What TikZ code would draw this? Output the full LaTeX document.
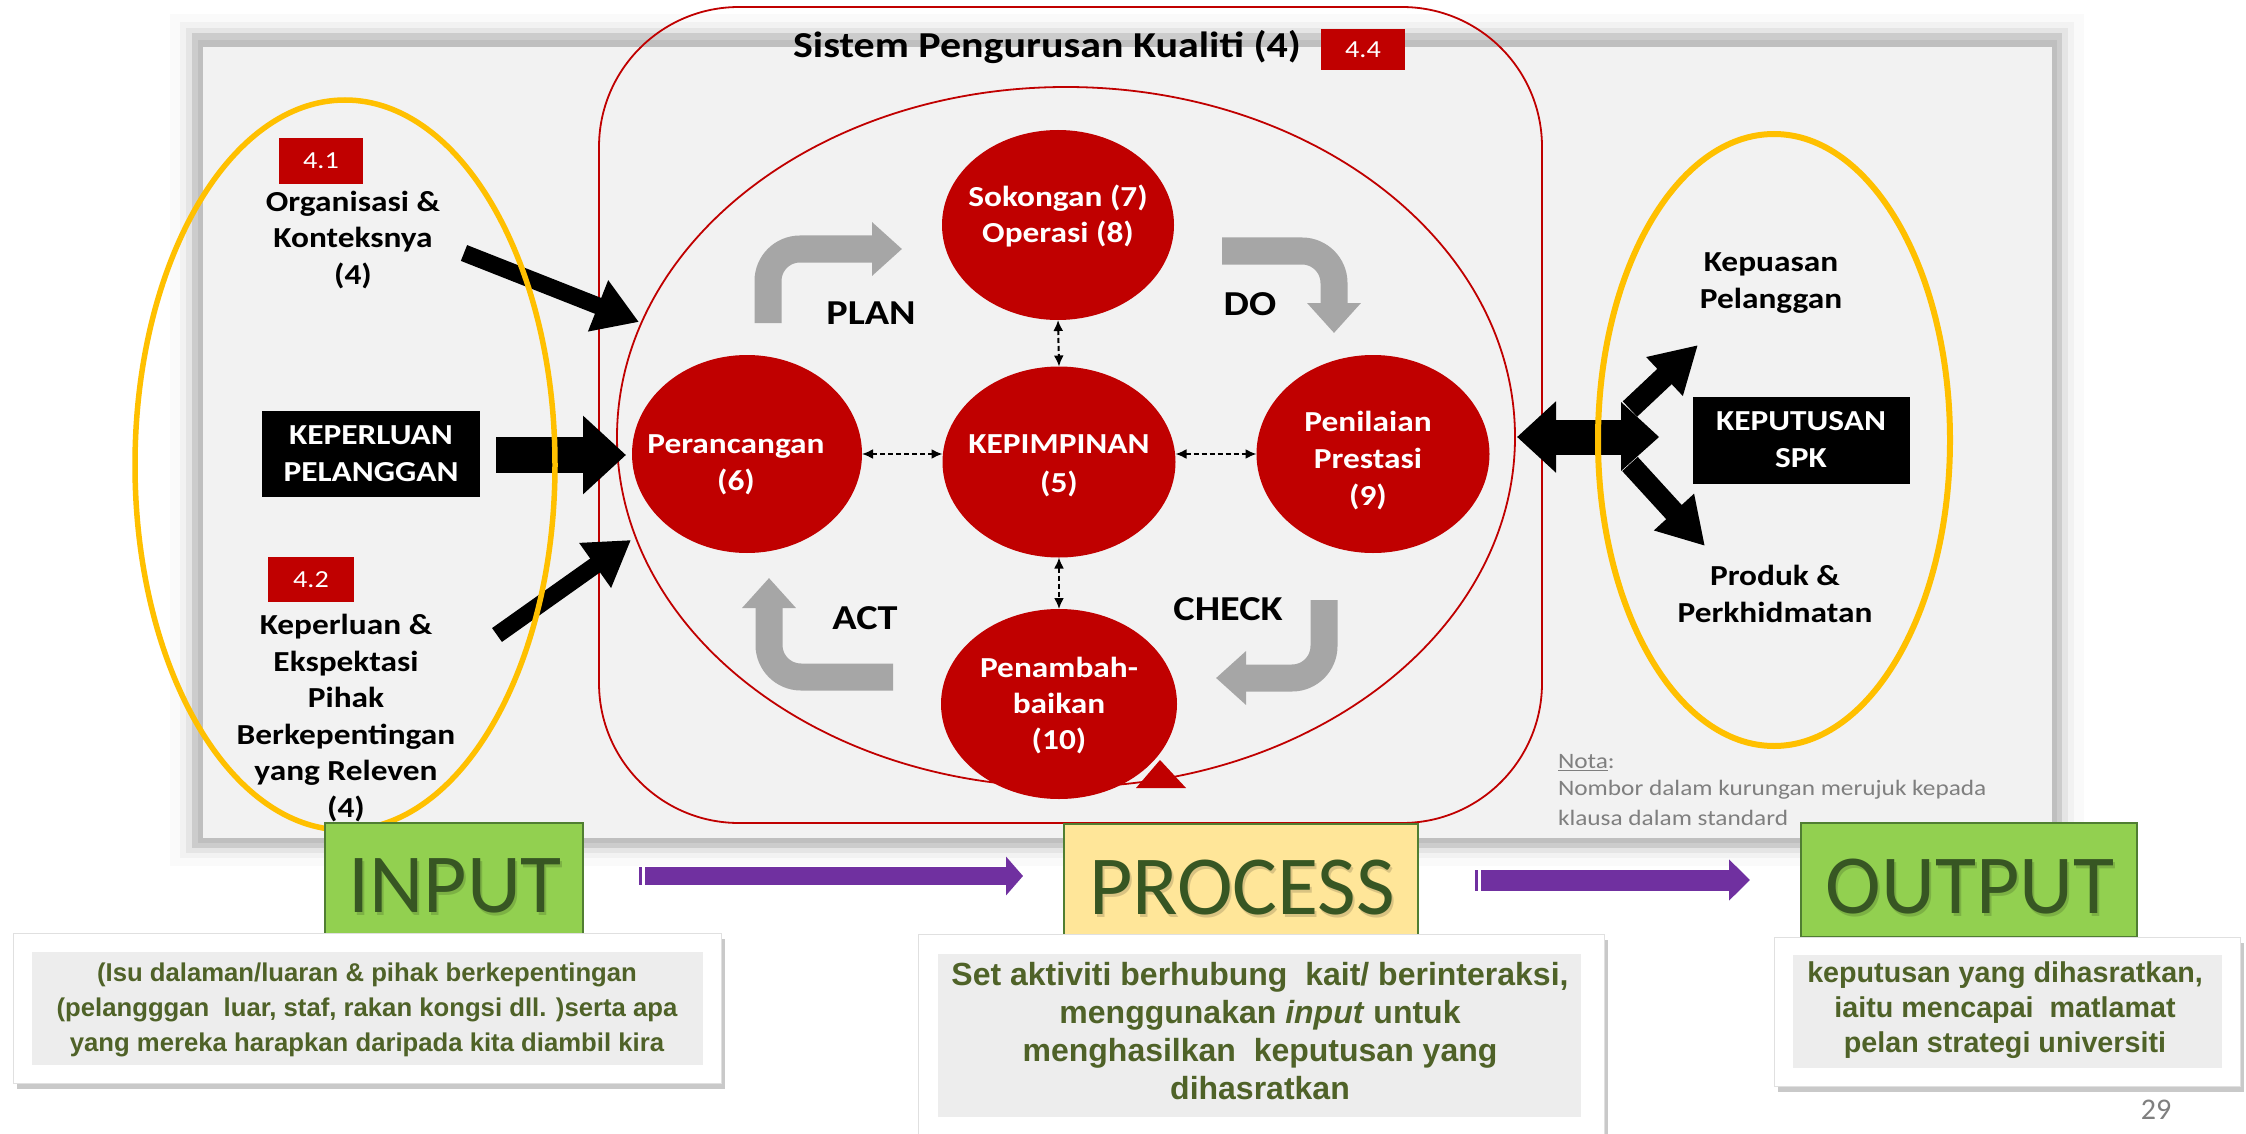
\documentclass[tikz,border=0pt]{standalone}
\usepackage{fontspec}
\usetikzlibrary{arrows.meta,shapes.geometric,calc}
\newfontfamily\calb[FakeStretch=1.15]{Carlito}
\newfontfamily\calreg{Carlito}
\newfontfamily\arialb{Liberation Sans}
\newcommand\fsz[2]{\fontsize{#1}{#2}\selectfont}
\definecolor{dred}{HTML}{C00000}
\definecolor{ygold}{HTML}{FFC000}
\definecolor{parrow}{HTML}{7030A0}
\definecolor{garrow}{HTML}{A6A6A6}
\definecolor{panelc}{HTML}{F2F2F2}
\definecolor{lgreen}{HTML}{92D050}
\definecolor{dgreen}{HTML}{375623}
\definecolor{tgreen}{HTML}{4F6228}
\definecolor{pyellow}{HTML}{FFE699}
\definecolor{bgreen}{HTML}{507E32}
\definecolor{notag}{HTML}{7F7F7F}
\definecolor{inbox}{HTML}{EDEDED}
\tikzset{
  every node/.style={inner sep=0pt, outer sep=0pt},
  redc/.style={ellipse, fill=dred},
  ctxt/.style={text=white, align=center, font=\calb\bfseries\fsz{29}{36}},
  redtag/.style={fill=dred, text=white, font=\calb\fsz{24.5}{28}},
  btxt/.style={align=center, font=\calb\bfseries\fsz{29}{36.5}},
  blkbox/.style={fill=black, text=white, align=center, font=\calb\bfseries\fsz{29}{37}},
  lbl/.style={font=\calb\bfseries\fsz{35}{40}},
  notatxt/.style={text=notag, font=\calb\fsz{22}{27}},
  blkarrow/.style={draw=black, line cap=butt},
  grayarrow/.style={draw=garrow, line width=27pt, rounded corners=32pt, -{Triangle[length=30pt,width=52pt]}},
  dasharr/.style={draw=black, line width=2pt, dash pattern=on 5pt off 3pt, {Latex[length=11pt,width=10pt]}-{Latex[length=11pt,width=10pt]}},
  bigbox/.style={draw=bgreen, line width=2pt},
  biglbl/.style={text=dgreen, font=\calreg\fsz{84}{90}},
  bigshadow/.style={text=black, opacity=.15, font=\calreg\fsz{84}{90}},
  gtxt/.style={text=tgreen, align=center},
}
\begin{document}
\begin{tikzpicture}[x=1pt,y=-1pt]
\useasboundingbox (0,0) rectangle (2246,1134);
\fill[white] (0,0) rectangle (2246,1134);

% ---- panel with shadow
\fill[black!2] (170,14) rectangle (2084,866);
\fill[black!5] (180,22) rectangle (2074,858);
\fill[black!10] (186,28) rectangle (2068,853);
\fill[black!20] (192,33) rectangle (2062,848);
\fill[black!25] (198,40) rectangle (2057,843);
\fill[panelc] (203,47) rectangle (2052,838);

% ---- outer red rounded rectangle and inner ellipse
\draw[dred, line width=1.8pt, rounded corners=140pt] (599,7) rectangle (1542,823);
\draw[dred, line width=1.8pt] (1066,437) ellipse [x radius=449, y radius=350];
\fill[dred] (1136,788) -- (1186,788) -- (1160,760) -- cycle;

% ---- title
\node[font=\calb\bfseries\fsz{36.5}{40}, anchor=base] (title) at (1047,58) {Sistem Pengurusan Kualiti (4)};
\node[redtag, minimum width=84, minimum height=41] (t44) at (1363,49.5) {4.4};

% ---- gray PDCA arrows
\draw[grayarrow] (768,323) |- (902,249);
\draw[grayarrow] (1222,251) -| (1334,333);
\draw[grayarrow] (1324,600) |- (1216,678);
\draw[grayarrow] (893,677) -| (769,578);

% ---- circles
\node[redc, minimum width=232, minimum height=190] (sok) at (1058,225) {};
\node[redc, minimum width=233, minimum height=191] (kep) at (1059,462) {};
\node[redc, minimum width=230, minimum height=198] (per) at (747,454) {};
\node[redc, minimum width=233, minimum height=198] (pen) at (1373,454) {};
\node[redc, minimum width=236, minimum height=190] (pb) at (1059,704) {};
\node[ctxt] (sokt) at (1058,216) {Sokongan (7)\\Operasi (8)};
\node[ctxt, font=\calb\bfseries\fsz{29}{39}] (kept) at (1059,466) {KEPIMPINAN\\(5)};
\node[ctxt, font=\calb\bfseries\fsz{29}{37}] (pert) at (736,465) {Perancangan\\(6)};
\node[ctxt, font=\calb\bfseries\fsz{29}{37}] (pent) at (1368,461) {Penilaian\\Prestasi\\(9)};
\node[ctxt] (pbt) at (1059,706) {Penambah-\\baikan\\(10)};

% ---- dashed links
\draw[dasharr] (sok.south) -- (kep.north);
\draw[dasharr] (kep.south) -- (pb.north);
\draw[dasharr] (per.east) -- (per.east -| kep.west);
\draw[dasharr] (pen.west -| kep.east) -- (pen.west);

% ---- PDCA labels
\node[lbl] (plan) at (871,313) {PLAN};
\node[lbl] (do) at (1250,304) {DO};
\node[lbl] (check) at (1228,609) {CHECK};
\node[lbl] (act) at (865,618) {ACT};

% ---- left side
\node[redtag, minimum width=84, minimum height=46] (t41) at (321,161) {4.1};
\node[btxt] (org) at (353,240) {Organisasi \&\\Konteksnya\\(4)};
\node[blkbox, minimum width=218, minimum height=86] (kp) at (371,454) {KEPERLUAN\\PELANGGAN};
\node[redtag, minimum width=86, minimum height=45] (t42) at (311,579.5) {4.2};
\node[btxt] (kep2) at (346,718) {Keperluan \&\\Ekspektasi\\Pihak\\Berkepentingan\\yang Releven\\(4)};

\coordinate (a1s) at (464,253); \coordinate (a1e) at (639,322);
\coordinate (a2s) at (496,455); \coordinate (a2e) at (626,455);
\coordinate (a3s) at (497,635); \coordinate (a3e) at (631,540);
\draw[blkarrow, line width=17pt, -{Triangle[length=44pt,width=52pt]}] (a1s) -- (a1e);
\draw[blkarrow, line width=36pt, -{Triangle[length=43pt,width=76pt]}] (a2s) -- (a2e);
\draw[blkarrow, line width=17pt, -{Triangle[length=44pt,width=52pt]}] (a3s) -- (a3e);

% ---- right side
\node[btxt] (kpu) at (1771,283) {Kepuasan\\Pelanggan};
\node[blkbox, minimum width=217, minimum height=87] (spk) at (1801,440) {KEPUTUSAN\\SPK};
\node[btxt] (prod) at (1775,594) {Produk \&\\Perkhidmatan};

\coordinate (rj) at (1630,437);
\coordinate (rl) at (1517,437);
\coordinate (rus) at (1630,409); \coordinate (rue) at (1698,345);
\coordinate (rds) at (1630,464); \coordinate (rde) at (1705,546);
\fill[black] (1621,402) -- (1659,437) -- (1621,471) -- cycle;
\draw[blkarrow, line width=35pt, -{Triangle[length=39pt,width=69pt]}] (rj) -- (rl);
\draw[blkarrow, line width=21pt, -{Triangle[length=46pt,width=50pt]}] (rus) -- (rue);
\draw[blkarrow, line width=21pt, -{Triangle[length=46pt,width=51pt]}] (rds) -- (rde);

% ---- yellow ellipses
\draw[ygold, line width=5.5pt] (345,465) ellipse [x radius=210, y radius=365];
\draw[ygold, line width=6pt] (1774,440) ellipse [x radius=176, y radius=306];

% ---- nota
\node[notatxt, anchor=west] (nota) at (1558,763) {\underline{Nota}:};
\node[notatxt, anchor=west] (nota2) at (1558,790) {Nombor dalam kurungan merujuk kepada};
\node[notatxt, anchor=west] (nota3) at (1558,818) {klausa dalam standard};

% ---- INPUT / PROCESS / OUTPUT boxes
\node[bigbox, fill=lgreen, minimum width=258, minimum height=111] (inb) at (454,878.5) {};
\node[bigshadow] at (457,889) {INPUT};
\node[biglbl] (inl) at (455,886) {INPUT};
\node[bigbox, fill=pyellow, minimum width=354, minimum height=111] (prb) at (1241,879.5) {};
\node[bigshadow] at (1244,891) {PROCESS};
\node[biglbl] (prl) at (1242,888) {PROCESS};
\node[bigbox, fill=lgreen, minimum width=336, minimum height=114] (oub) at (1969,880) {};
\node[bigshadow] at (1972,890) {OUTPUT};
\node[biglbl] (oul) at (1970,887) {OUTPUT};

% ---- purple arrows
\fill[parrow] (639,867) rectangle (642,885);
\coordinate (p1s) at (645,876); \coordinate (p1e) at (1023,876);
\draw[parrow, line width=18pt, -{Triangle[length=17pt,width=38pt]}] (p1s) -- (p1e);
\fill[parrow] (1475,870) rectangle (1478,891);
\coordinate (p2s) at (1481,880); \coordinate (p2e) at (1750,880);
\draw[parrow, line width=21pt, -{Triangle[length=21pt,width=40pt]}] (p2s) -- (p2e);

% ---- description boxes
\fill[black!35, opacity=.6] (17,939) rectangle (725,1089);
\fill[white] (13,933) rectangle (721,1083);
\draw[black!12, line width=1pt] (13,933) rectangle (721,1083);
\fill[inbox] (32,952) rectangle (703,1065);
\node[gtxt, font=\arialb\bfseries\fsz{25.7}{35}] (int) at (367,1010) {(Isu dalaman/luaran \& pihak berkepentingan\\(pelangggan\ \ luar, staf, rakan kongsi dll. )serta apa\\yang mereka harapkan daripada kita diambil kira};

\fill[black!35, opacity=.6] (922,940) rectangle (1608,1140);
\fill[white] (918,934) rectangle (1604,1140);
\draw[black!12, line width=1pt] (918,934) rectangle (1604,1140);
\fill[inbox] (938,954) rectangle (1581,1117);
\node[gtxt, font=\arialb\bfseries\fsz{32}{38}] (prt) at (1260,1031) {Set aktiviti berhubung\ \ kait/ berinteraksi,\\menggunakan \textit{input} untuk\\menghasilkan\ \ keputusan yang\\dihasratkan};

\fill[black!35, opacity=.6] (1778,943) rectangle (2244,1092);
\fill[white] (1774,937) rectangle (2240,1086);
\draw[black!12, line width=1pt] (1774,937) rectangle (2240,1086);
\fill[inbox] (1793,955) rectangle (2222,1068);
\node[gtxt, font=\arialb\bfseries\fsz{28.7}{35}] (out) at (2005,1010) {keputusan yang dihasratkan,\\iaitu mencapai\ \ matlamat\\pelan strategi universiti};

% ---- page number
\node[text=notag, font=\calreg\fsz{30}{34}] (pg) at (2156,1110) {29};
\end{tikzpicture}
\end{document}
